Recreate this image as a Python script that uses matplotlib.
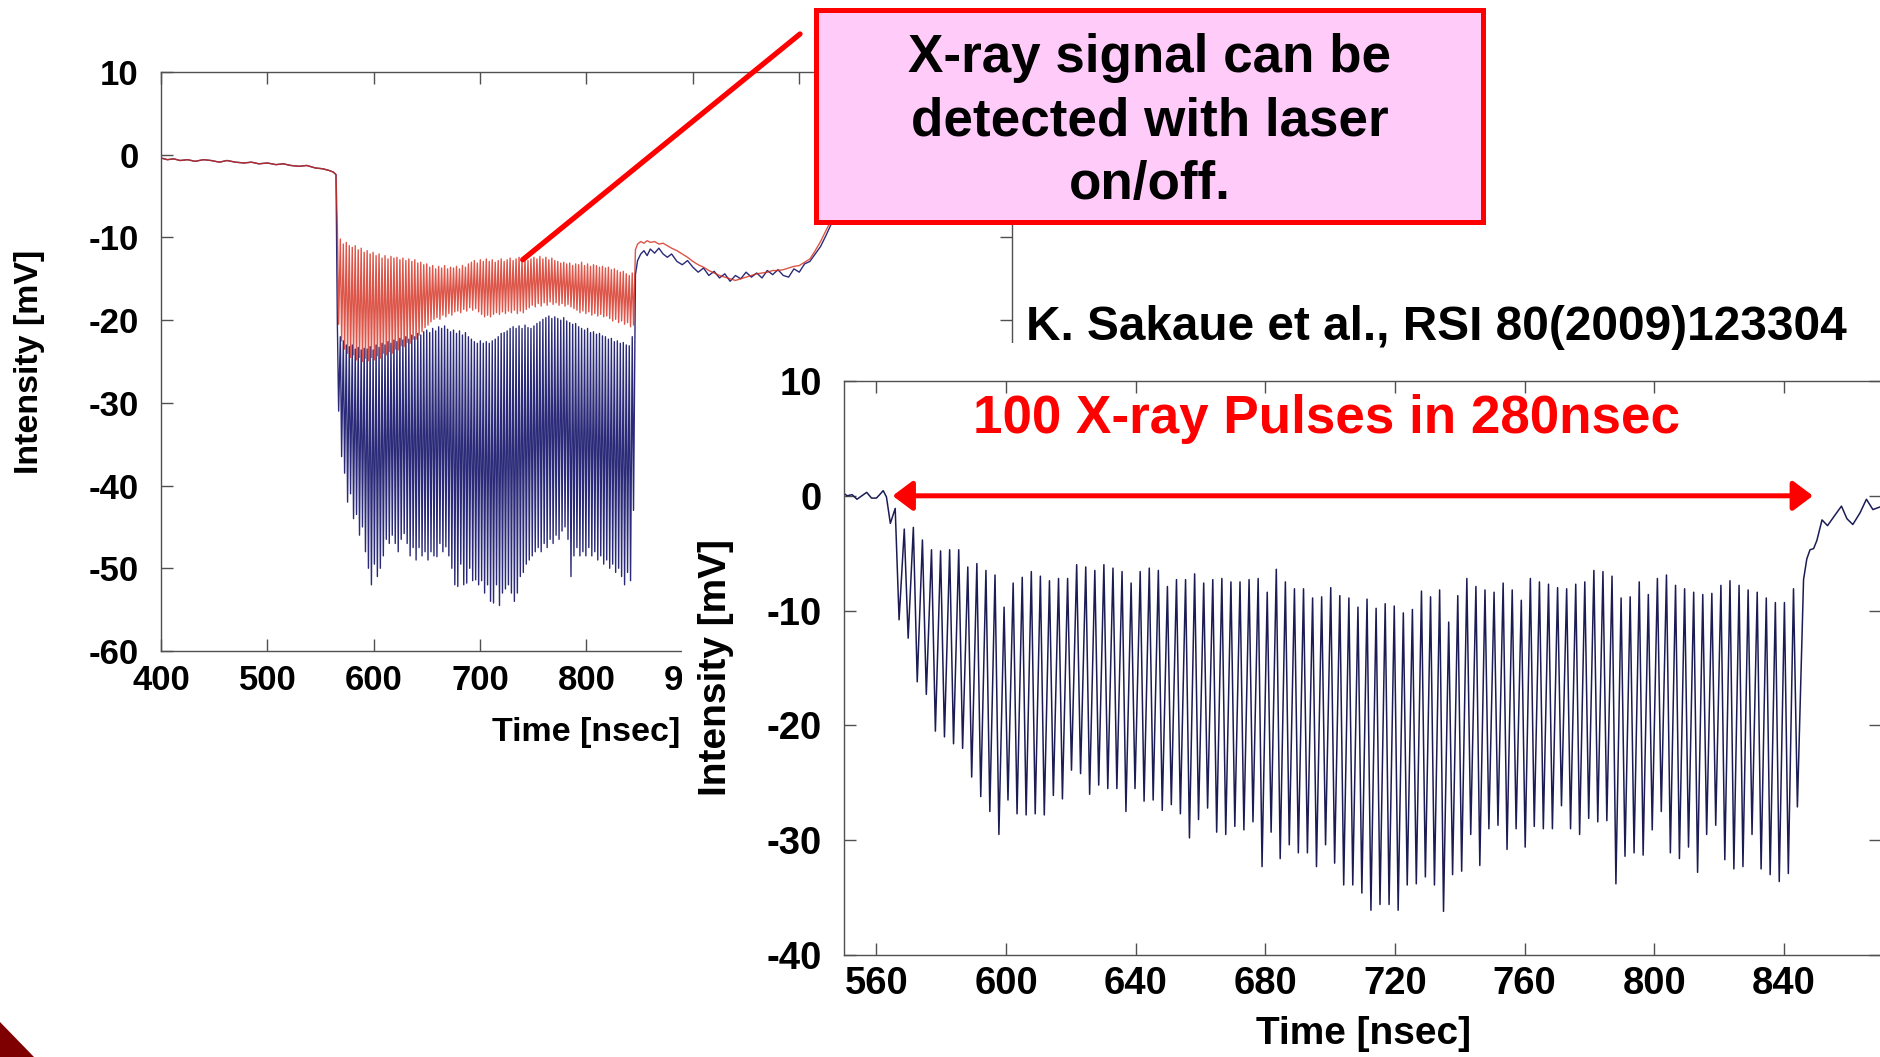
import numpy as np
import matplotlib
matplotlib.use('Agg')
import matplotlib.pyplot as plt
from matplotlib.patches import Rectangle, Polygon
from matplotlib.transforms import Bbox, TransformedBbox

plt.rcParams['font.family'] = ['Liberation Sans', 'DejaVu Sans']
plt.rcParams['font.weight'] = 'bold'
plt.rcParams['axes.labelweight'] = 'bold'
plt.rcParams['axes.unicode_minus'] = False

W, H = 1881, 1057


def fx(px):
    return px / W


def fy(py):
    return 1 - py / H


# ---------------- data ----------------
# 100 x-ray pulses in 280 ns -> one pulse every 2.8 ns, first trough at 567 ns
n_pulses = 100
pulse_start = 567.0
pulse_period = 2.8
crest_lead = 1.2
pulse_t = pulse_start + pulse_period * np.arange(n_pulses)

# right panel (zoom of laser-on-off difference), trough / crest of each pulse [mV]
right_trough = [
    -10.8, -12.4, -16.2, -17.3, -20.5, -21.0, -21.6, -22.0, -24.5, -26.2,
    -27.5, -29.5, -26.5, -27.7, -27.8, -27.7, -27.8, -26.1, -26.4, -23.9,
    -24.2, -26.0, -25.2, -25.5, -25.5, -27.5, -25.5, -26.6, -26.5, -27.4,
    -26.9, -27.7, -29.8, -28.2, -27.2, -29.3, -29.5, -28.8, -29.1, -28.4,
    -32.3, -29.3, -31.6, -30.4, -31.1, -31.1, -32.3, -30.4, -32.0, -33.9,
    -33.9, -34.6, -36.1, -35.6, -35.6, -36.1, -33.9, -33.8, -33.2, -33.9,
    -36.2, -33.0, -32.7, -29.5, -32.2, -29.0, -28.7, -30.8, -29.0, -30.6,
    -28.8, -29.0, -29.0, -27.0, -29.0, -29.5, -28.1, -28.4, -28.3, -33.8,
    -31.4, -31.1, -31.3, -29.1, -27.5, -31.1, -31.6, -30.6, -32.8, -29.5,
    -28.7, -31.7, -32.5, -32.3, -29.5, -32.5, -33.0, -33.6, -32.9, -27.1]
right_crest = [
    -1.1, -2.9, -2.75, -3.85, -4.7, -4.8, -4.7, -4.7, -6.2, -5.9,
    -6.5, -6.9, -9.7, -7.6, -7.1, -6.6, -7.0, -7.4, -7.2, -7.2,
    -6.0, -6.2, -6.5, -6.0, -6.3, -6.6, -7.6, -6.6, -6.3, -6.5,
    -7.9, -7.3, -7.3, -6.8, -7.6, -7.3, -7.2, -7.5, -7.5, -7.3,
    -7.2, -8.4, -6.4, -7.5, -8.1, -8.1, -8.9, -8.8, -8.0, -8.7,
    -8.9, -9.7, -9.0, -9.8, -9.4, -9.6, -10.2, -9.9, -8.3, -8.8,
    -8.2, -11.0, -8.7, -7.2, -7.9, -8.2, -8.4, -7.6, -8.2, -9.1,
    -7.2, -7.5, -7.7, -8.0, -8.1, -7.7, -7.5, -6.5, -6.6, -7.0,
    -8.9, -8.8, -7.5, -8.6, -7.2, -6.9, -7.8, -8.1, -8.4, -8.6,
    -8.5, -7.8, -7.4, -7.8, -8.2, -8.4, -8.9, -9.3, -9.3, -8.1]
right_pre_t = [550, 551, 552.5, 554, 555.5, 557, 558.5, 560, 561, 562.1, 563.1, 564.3]
right_pre_v = [0.2, 0.0, 0.1, -0.3, 0.0, 0.3, -0.2, -0.2, 0.1, 0.45, -0.1, -2.4]
right_post_t = [846.1, 847.1, 848.1, 849.2, 850.2, 851.8, 853.5, 855.5, 857.8,
                859.5, 861.3, 863.5, 865.5, 867.5, 870.4]
right_post_v = [-7.3, -5.5, -4.7, -4.6, -3.9, -2.1, -2.6, -1.8, -0.9,
                -2.0, -2.5, -1.5, -0.3, -1.2, -0.9]

# left panel: laser off (blue) and laser on (red)
off_trough = [
    -31.0, -36.5, -38.5, -42.0, -41.0, -44.0, -43.5, -46.0, -45.0, -48.0,
    -50.0, -52.0, -49.5, -51.0, -50.0, -48.5, -46.5, -47.0, -46.0, -47.0,
    -48.0, -46.5, -45.8, -47.0, -48.5, -47.5, -49.0, -47.5, -48.5, -48.0,
    -49.0, -48.0, -48.5, -48.6, -47.0, -48.0, -47.4, -48.5, -50.0, -52.0,
    -52.2, -49.5, -52.0, -51.8, -50.0, -51.5, -51.4, -52.0, -51.5, -53.0,
    -52.0, -54.0, -54.2, -52.0, -54.5, -53.0, -52.5, -52.0, -53.0, -54.0,
    -53.0, -51.0, -50.5, -49.5, -49.0, -48.5, -48.0, -47.5, -48.0, -47.0,
    -47.5, -46.5, -47.0, -46.0, -46.5, -45.5, -45.0, -46.5, -51.0, -48.5,
    -47.5, -48.5, -48.0, -48.5, -47.5, -48.5, -48.0, -49.0, -48.5, -49.5,
    -49.0, -50.0, -49.5, -50.5, -50.0, -51.0, -52.0, -50.5, -51.5, -43.0]
off_crest = [
    -20.5, -22.0, -22.5, -23.0, -23.2, -23.0, -23.5, -23.3, -23.6, -23.4,
    -23.5, -23.2, -23.6, -23.0, -23.3, -22.8, -23.0, -22.6, -22.8, -22.4,
    -22.6, -22.2, -22.4, -22.0, -22.3, -21.8, -22.0, -21.6, -21.8, -21.4,
    -21.2, -21.5, -21.0, -21.3, -20.8, -21.0, -20.7, -21.1, -21.4, -21.2,
    -21.6, -21.3, -21.8, -21.5, -22.0, -22.3, -22.6, -22.8, -22.5, -22.8,
    -22.6, -22.8, -22.5, -22.3, -22.0, -21.6, -21.5, -21.3, -21.0, -20.8,
    -21.0, -20.7, -21.0, -20.6, -20.9, -21.0, -20.7, -20.4, -20.2, -19.9,
    -19.7, -19.5, -19.8, -19.6, -19.8, -20.0, -19.7, -20.1, -20.3, -20.5,
    -20.4, -20.8, -21.0, -21.2, -21.0, -21.5, -21.4, -21.7, -21.6, -21.9,
    -22.0, -22.3, -22.2, -22.6, -22.5, -22.8, -22.7, -23.0, -23.1, -22.0]
on_crest = [
    -8.7, -10.2, -10.8, -10.6, -11.0, -11.2, -11.0, -11.5, -11.3, -11.8,
    -11.6, -12.0, -11.8, -12.2, -12.0, -12.5, -12.2, -12.6, -12.3, -12.5,
    -12.4, -12.7, -12.5, -12.8, -12.6, -12.9, -12.7, -13.1, -13.0, -13.3,
    -13.2, -13.6, -13.4, -13.8, -13.5, -13.7, -13.4, -13.8, -13.6, -13.7,
    -13.5, -13.8, -13.4, -13.6, -13.2, -13.0, -12.8, -13.1, -12.7, -12.9,
    -12.6, -12.9, -12.7, -13.0, -12.8, -12.6, -12.9, -12.7, -12.5, -12.8,
    -12.6, -12.4, -12.7, -12.5, -12.8, -12.6, -12.4, -12.6, -12.3, -12.6,
    -12.4, -12.7, -12.5, -12.8, -12.9, -13.1, -13.0, -13.2, -13.1, -13.4,
    -13.2, -13.3, -13.0, -13.4, -13.2, -13.5, -13.3, -13.4, -13.6, -13.5,
    -13.7, -13.6, -13.9, -13.8, -14.0, -14.2, -14.1, -14.4, -14.6, -14.3]
on_trough = [
    -20.5, -22.5, -23.5, -24.0, -24.5, -24.2, -24.8, -24.5, -25.0, -24.6,
    -24.9, -24.5, -24.8, -24.3, -24.6, -24.0, -24.2, -23.8, -24.0, -23.5,
    -23.6, -23.1, -23.2, -22.7, -22.8, -22.3, -22.3, -21.8, -21.4, -20.9,
    -20.6, -20.2, -19.9, -19.7, -19.9, -19.4, -19.6, -19.2, -19.4, -19.0,
    -18.9, -19.1, -18.7, -18.9, -18.5, -18.8, -18.6, -19.0, -19.3, -19.6,
    -19.4, -19.6, -19.3, -19.1, -19.3, -19.0, -19.2, -18.9, -19.1, -18.8,
    -19.2, -18.9, -19.1, -18.7, -18.5, -18.2, -18.4, -18.0, -18.3, -17.9,
    -18.2, -17.8, -18.1, -17.9, -18.2, -18.0, -18.3, -18.1, -18.4, -18.6,
    -18.8, -19.1, -18.9, -19.2, -19.0, -19.4, -19.2, -19.5, -19.3, -19.6,
    -19.5, -19.8, -20.1, -19.9, -20.3, -20.1, -20.5, -20.3, -20.8, -20.6]
left_pre_t = [400, 406, 412, 418, 425, 432, 440, 447, 455, 462, 470, 478, 485,
              492, 500, 508, 515, 522, 530, 537, 545, 552, 558, 562, 564.5]
left_pre_v = [-0.4, -0.6, -0.5, -0.7, -0.6, -0.8, -0.6, -0.7, -0.9, -0.7, -0.9,
              -1.0, -0.9, -1.1, -1.0, -1.2, -1.1, -1.3, -1.4, -1.3, -1.6, -1.7,
              -1.9, -2.1, -2.4]
left_post_t = [846, 848, 851, 854, 857, 860, 864, 868, 872, 876,
               880, 885, 890, 895, 900, 905, 910, 915, 920, 925,
               930, 935, 940, 945, 950, 955, 960, 965, 970, 975,
               980, 985, 990, 995, 1000, 1005, 1010, 1015, 1020, 1025,
               1030, 1040, 1050, 1070, 1100, 1150, 1200]
off_post_v = [-14.5, -12.8, -12.0, -11.6, -12.2, -11.4, -11.9, -11.3, -12.0, -12.4,
              -12.0, -12.9, -13.3, -12.8, -13.6, -14.2, -13.7, -14.6, -14.1, -14.9,
              -14.4, -15.3, -14.6, -15.0, -14.2, -14.8, -14.3, -14.9, -14.0, -14.5,
              -13.9, -14.6, -14.8, -13.8, -14.2, -13.2, -12.9, -12.0, -11.1, -9.8,
              -8.4, -6.0, -4.2, -2.5, -1.6, -1.2, -1.0]
on_post_v = [-11.5, -10.8, -10.5, -10.7, -10.4, -10.6, -10.5, -10.8, -10.7, -11.0,
             -11.3, -11.6, -12.0, -12.4, -12.9, -13.3, -13.6, -14.0, -14.3, -14.6,
             -14.8, -15.0, -15.2, -15.0, -14.8, -14.6, -14.4, -14.3, -14.2, -14.0,
             -14.0, -13.9, -13.7, -13.5, -13.4, -13.0, -12.6, -11.6, -10.5, -9.2,
             -7.9, -5.8, -4.0, -2.4, -1.5, -1.1, -0.9]

left_xticks = [400, 500, 600, 700, 800, 900, 1000, 1100, 1200]
left_yticks = [10, 0, -10, -20, -30, -40, -50, -60]
right_xticks = [560, 600, 640, 680, 720, 760, 800, 840]
right_yticks = [10, 0, -10, -20, -30, -40]
arrow_span = [565, 849]
leader_point = (740, -12.7)


def pulse_train(pre_t, pre_v, crest, trough, post_t, post_v):
    t = np.column_stack([pulse_t - crest_lead, pulse_t]).ravel()
    v = np.column_stack([crest, trough]).ravel()
    return np.concatenate([pre_t, t, post_t]), np.concatenate([pre_v, v, post_v])


fig = plt.figure(figsize=(W / 100, H / 100), dpi=100, facecolor='white')


def style(ax, size, xpad, ypad):
    for s in ax.spines.values():
        s.set_color('#505050')
        s.set_linewidth(1.0)
    ax.tick_params(direction='in', length=8.5, width=1, color='#505050',
                   top=True, right=True, labelsize=size)
    ax.tick_params(axis='x', pad=xpad)
    ax.tick_params(axis='y', pad=ypad)


# ---------------- left panel ----------------
ax1 = fig.add_axes([fx(161), fy(651), (1012 - 161) / W, (651 - 72) / H], zorder=0)
t, v = pulse_train(left_pre_t, left_pre_v, off_crest, off_trough, left_post_t, off_post_v)
ax1.plot(t, v, color='#2a2a78', lw=1.0)
t, v = pulse_train(left_pre_t, left_pre_v, on_crest, on_trough, left_post_t, on_post_v)
ax1.plot(t, v, color='#d42a1a', lw=1.0, alpha=0.8)
ax1.set_xlim(400, 1200)
ax1.set_ylim(-60, 10)
ax1.set_xticks(left_xticks)
ax1.set_xticklabels([str(x) for x in left_xticks])
ax1.set_yticks(left_yticks)
ax1.set_yticklabels([str(y) for y in left_yticks])
style(ax1, 25, 9, 16)
ax1.set_xlabel('Time [nsec]', fontsize=24.5)
ax1.xaxis.set_label_coords(0.5, -0.14)
ax1.xaxis.label.set_va('center')
ax1.set_ylabel('Intensity [mV]', fontsize=24.5)
ax1.yaxis.set_label_coords(-0.154, 0.5)
ax1.yaxis.label.set_va('center')

# the right panel is pasted over the left one: cut the left x labels at its edge
visible = TransformedBbox(Bbox([[0, 0], [fx(682), 1]]), fig.transFigure)
for lbl in ax1.get_xticklabels():
    lbl.set_clip_box(visible)
    lbl.set_clip_on(True)

# leader line from callout box to the laser-on trace
ax1.annotate('', xy=leader_point, xytext=(fx(800), fy(34)), textcoords='figure fraction',
             arrowprops=dict(arrowstyle='-', color='#ff0000', lw=3.8, shrinkA=0, shrinkB=0),
             annotation_clip=False)

# white background of the pasted right panel
fig.patches.append(Rectangle((fx(682), 0), 1 - fx(682), fy(343), transform=fig.transFigure,
                             facecolor='white', edgecolor='none', zorder=1))

# ---------------- right panel ----------------
ax2 = fig.add_axes([fx(844), fy(955), (W - 844) / W, (955 - 381) / H], zorder=1.5)
t, v = pulse_train(right_pre_t, right_pre_v, right_crest, right_trough, right_post_t, right_post_v)
ax2.plot(t, v, color='#1c1c55', lw=1.1)
ax2.set_xlim(550, 870)
ax2.set_ylim(-40, 10)
ax2.set_xticks(right_xticks)
ax2.set_xticklabels([str(x) for x in right_xticks])
ax2.set_yticks(right_yticks)
ax2.set_yticklabels([str(y) for y in right_yticks])
style(ax2, 27.5, 8, 16)
ax2.set_xlabel('Time [nsec]', fontsize=28)
ax2.xaxis.set_label_coords(0.5014, -0.1376)
ax2.xaxis.label.set_va('center')
ax2.set_ylabel('Intensity [mV]', fontsize=28)
ax2.yaxis.set_label_coords(-0.1234, 0.5)
ax2.yaxis.label.set_va('center')
ax2.annotate('', xy=(arrow_span[1], 0), xytext=(arrow_span[0], 0),
             arrowprops=dict(arrowstyle='<|-|>,head_length=0.6,head_width=0.45',
                             mutation_scale=20, color='#ff0000', lw=3.6,
                             shrinkA=0, shrinkB=0))

fig.text(fx(1327), fy(433), '100 X-ray Pulses in 280nsec', color='#ff0000',
         fontsize=38.2, ha='center', va='baseline', zorder=3)

# ---------------- callout & citation ----------------
fig.patches.append(Rectangle((fx(816), fy(222)), (1483 - 816) / W, (222 - 10) / H,
                             transform=fig.transFigure, facecolor='#ffccfa',
                             edgecolor='#ff0000', lw=3.6, zorder=2))
for line, base in zip(['X-ray signal can be', 'detected with laser', 'on/off.'], [72, 135, 199]):
    fig.text(fx(1149.5), fy(base), line, fontsize=38.2, ha='center', va='baseline', zorder=3)

fig.text(fx(1026), fy(340), 'K. Sakaue et al., RSI 80(2009)123304', fontsize=34.4,
         ha='left', va='baseline', zorder=3)

fig.patches.append(Polygon([(0, fy(1022)), (0, 0), (fx(34), 0)], closed=True,
                           transform=fig.transFigure, facecolor='#7f0000',
                           edgecolor='none', zorder=3))

fig.savefig('out.png', dpi=100, facecolor='white')
